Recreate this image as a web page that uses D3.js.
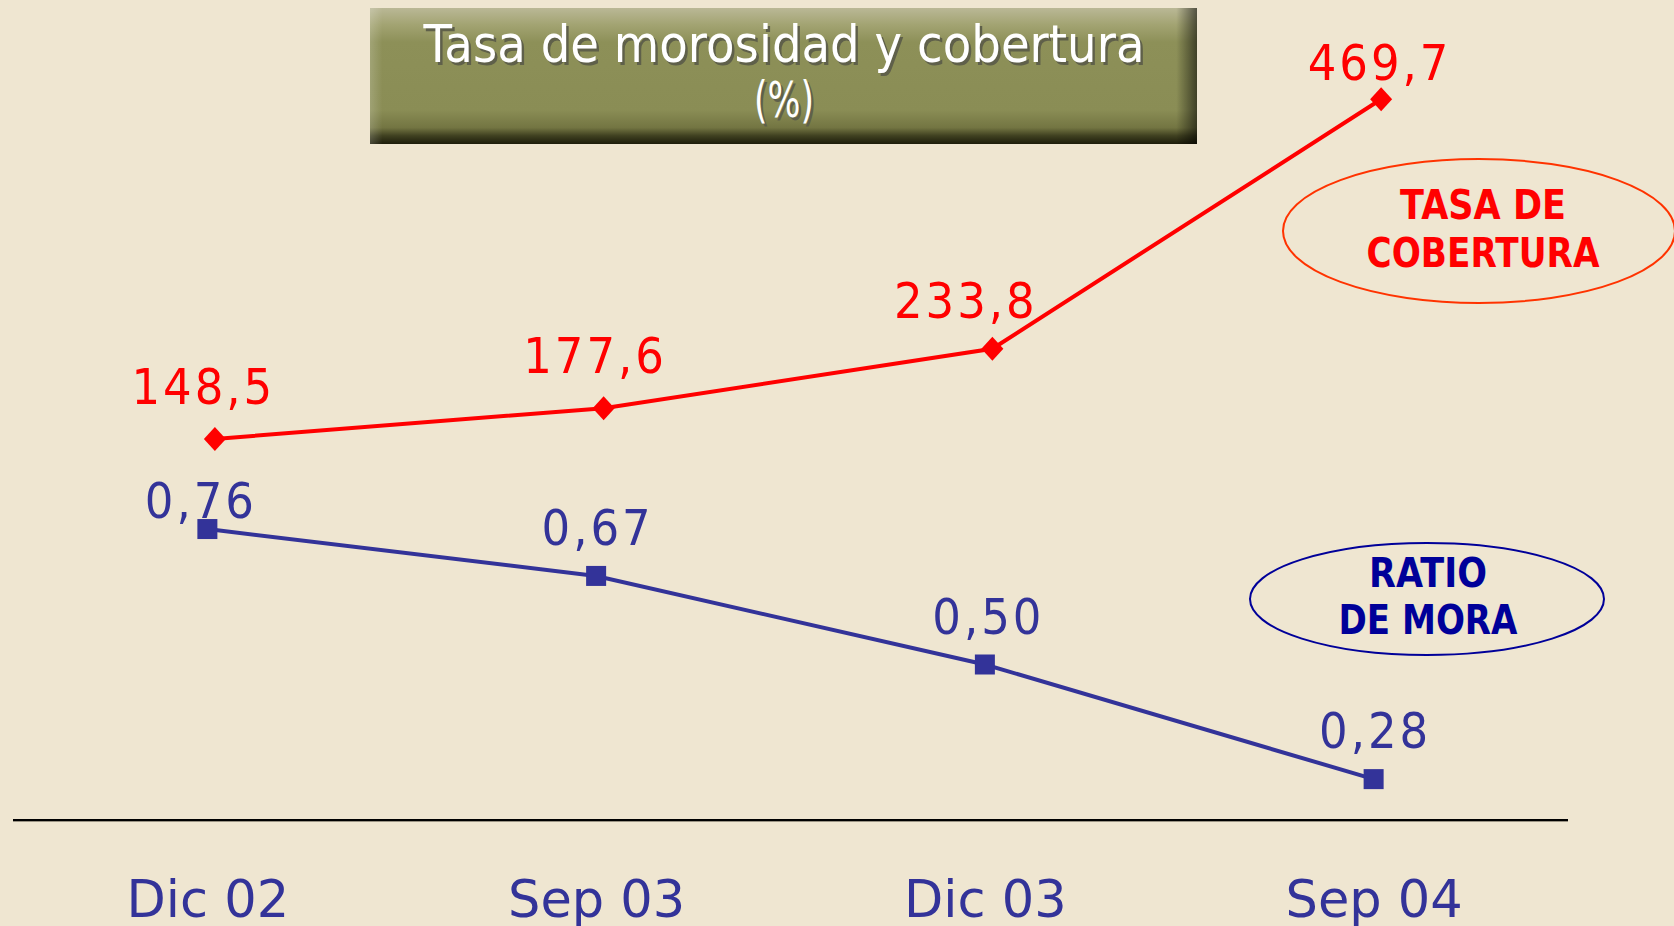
<!DOCTYPE html>
<html>
<head>
<meta charset="utf-8">
<script src="https://cdn.jsdelivr.net/npm/d3@7"></script>
<style>
  html, body { margin: 0; padding: 0; background: #EFE6D1; }
  svg { display: block; }
  text { font-family: "DejaVu Sans", Verdana, sans-serif; }
  text.value { font-family: "DejaVu Sans Condensed", "DejaVu Sans", sans-serif; font-stretch: condensed; letter-spacing: 3px; }
</style>
</head>
<body>
<svg id="chart" width="1674" height="926"></svg>
<script>
// Periods on the horizontal axis
const periods = ["Dic 02", "Sep 03", "Dic 03", "Sep 04"];
// Tasa de cobertura (%)
const cobertura = [148.5, 177.6, 233.8, 469.7];
// Ratio de mora (%)
const mora = [0.76, 0.67, 0.50, 0.28];
// Printed labels (Spanish decimal comma)
const coberturaLabels = ["148,5", "177,6", "233,8", "469,7"];
const moraLabels = ["0,76", "0,67", "0,50", "0,28"];
// Label nudges relative to each marker [dx, dy]
const coberturaNudge = [[-13, -35], [-10, -35], [-28, -31], [-3, -19]];
const moraNudge = [[-8, -11], [0, -31], [2, -31], [0, -31]];

const W = 1674, H = 926;
const RED = "#FF0000", BLUE = "#333399", NAVY = "#000099";
const svg = d3.select("#chart");

svg.append("rect").attr("width", W).attr("height", H).attr("fill", "#EFE6D1");

// Scales: primary series on the category axis, coverage on a secondary axis
const x = d3.scalePoint().domain(periods).range([13, 1568]).padding(0.5);
const x2 = d3.scalePoint().domain(periods).range([20.5, 1575.5]).padding(0.5);
const yMora = d3.scaleLinear().domain([0, 1]).range([925, 404]);
const yCob = d3.scaleLinear().domain([0, 500]).range([596, 67.2]);

// ---- Title box ----
const defs = svg.append("defs");
const gv = defs.append("linearGradient").attr("id", "boxV")
  .attr("x1", 0).attr("y1", 0).attr("x2", 0).attr("y2", 1);
[[0, "#bab896"], [0.12, "#a3a473"], [0.25, "#8d9058"], [0.75, "#8a8d55"],
 [0.88, "#737542"], [0.94, "#3f4020"], [1, "#1d1d0b"]]
  .forEach(([o, c]) => gv.append("stop").attr("offset", o).attr("stop-color", c));
const gh = defs.append("linearGradient").attr("id", "boxH")
  .attr("x1", 0).attr("y1", 0).attr("x2", 1).attr("y2", 0);
[[0, "rgba(255,255,255,0.18)"], [0.015, "rgba(255,255,255,0)"],
 [0.975, "rgba(0,0,0,0)"], [1, "rgba(0,0,0,0.55)"]]
  .forEach(([o, c]) => gh.append("stop").attr("offset", o).attr("stop-color", c));

const box = { x: 370, y: 8, w: 827, h: 136 };
svg.append("rect").attr("x", box.x).attr("y", box.y).attr("width", box.w).attr("height", box.h)
  .attr("fill", "url(#boxV)");
svg.append("rect").attr("x", box.x).attr("y", box.y).attr("width", box.w).attr("height", box.h)
  .attr("fill", "url(#boxH)");

const titleLines = [
  { t: "Tasa de morosidad y cobertura", y: 62, len: 721, fs: 52 },
  { t: "(%)", y: 117, len: 60, fs: 50 }
];
const cx = 784;
titleLines.forEach(l => {
  [["#5f604a", 2.5], ["#ffffff", 0]].forEach(([fill, off]) => {
    svg.append("text")
      .attr("x", cx + off).attr("y", l.y + off)
      .attr("text-anchor", "middle")
      .attr("font-size", l.fs)
      .attr("textLength", l.len).attr("lengthAdjust", "spacingAndGlyphs")
      .attr("fill", fill)
      .text(l.t);
  });
});

// ---- Baseline axis ----
svg.append("line").attr("x1", 13).attr("x2", 1568).attr("y1", 821).attr("y2", 821)
  .attr("stroke", "#9a9383").attr("stroke-width", 2);
svg.append("line").attr("x1", 13).attr("x2", 1568).attr("y1", 820).attr("y2", 820)
  .attr("stroke", "#000").attr("stroke-width", 2);

const xAxis = svg.append("g").attr("transform", "translate(0,917)")
  .call(d3.axisBottom(x).tickSize(0).tickPadding(0));
xAxis.select(".domain").remove();
xAxis.selectAll("text")
  .attr("font-family", "DejaVu Sans, Verdana, sans-serif")
  .attr("font-size", 51)
  .attr("fill", BLUE)
  .attr("dy", 0)
  .attr("y", 0);

// ---- Ratio de mora ----
const moraPts = mora.map((v, i) => [x(periods[i]), yMora(v)]);
svg.append("path").attr("d", d3.line()(moraPts))
  .attr("fill", "none").attr("stroke", BLUE).attr("stroke-width", 4);
svg.selectAll("rect.mora").data(moraPts).join("rect").attr("class", "mora")
  .attr("x", d => d[0] - 10).attr("y", d => d[1] - 10)
  .attr("width", 20).attr("height", 20).attr("fill", BLUE);
svg.selectAll("text.moraLbl").data(moraPts).join("text").attr("class", "moraLbl value")
  .attr("x", (d, i) => d[0] + moraNudge[i][0] + 1.5)
  .attr("y", (d, i) => d[1] + moraNudge[i][1])
  .attr("text-anchor", "middle").attr("font-size", 50).attr("fill", BLUE)
  .text((d, i) => moraLabels[i]);

// ---- Tasa de cobertura ----
const cobPts = cobertura.map((v, i) => [x2(periods[i]), yCob(v)]);
svg.append("path").attr("d", d3.line()(cobPts))
  .attr("fill", "none").attr("stroke", RED).attr("stroke-width", 4);
svg.selectAll("path.cob").data(cobPts).join("path").attr("class", "cob")
  .attr("d", d => `M${d[0]},${d[1] - 12}L${d[0] + 11},${d[1]}L${d[0]},${d[1] + 12}L${d[0] - 11},${d[1]}Z`)
  .attr("fill", RED);
svg.selectAll("text.cobLbl").data(cobPts).join("text").attr("class", "cobLbl value")
  .attr("x", (d, i) => d[0] + coberturaNudge[i][0] + 1.5)
  .attr("y", (d, i) => d[1] + coberturaNudge[i][1])
  .attr("text-anchor", "middle").attr("font-size", 50).attr("fill", RED)
  .text((d, i) => coberturaLabels[i]);

// ---- Series callouts ----
const callouts = [
  { cx: 1479, cy: 231, rx: 196, ry: 72, stroke: "#FF3300", fill: RED,
    lines: [["TASA DE", 219, 166], ["COBERTURA", 267, 233]], tx: 1483 },
  { cx: 1427, cy: 599, rx: 177, ry: 56, stroke: NAVY, fill: NAVY,
    lines: [["RATIO", 587, 118], ["DE MORA", 634, 179]], tx: 1428 }
];
callouts.forEach(c => {
  svg.append("ellipse").attr("cx", c.cx).attr("cy", c.cy).attr("rx", c.rx).attr("ry", c.ry)
    .attr("fill", "none").attr("stroke", c.stroke).attr("stroke-width", 2);
  c.lines.forEach(([t, y, len]) => {
    svg.append("text").attr("x", c.tx).attr("y", y)
      .attr("text-anchor", "middle").attr("font-size", 40).attr("font-weight", "bold")
      .attr("textLength", len).attr("lengthAdjust", "spacingAndGlyphs")
      .attr("fill", c.fill).text(t);
  });
});
</script>
</body>
</html>
